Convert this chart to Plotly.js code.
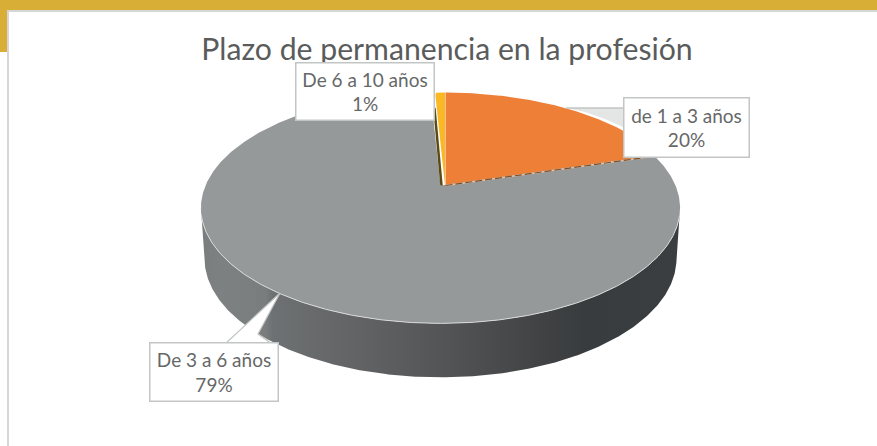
<!DOCTYPE html>
<html>
<head>
<meta charset="utf-8">
<script src="https://cdn.plot.ly/plotly-3.0.1.min.js"></script>
<style>html,body{margin:0;padding:0;background:#fff}#c{width:877px;height:446px}</style>
</head>
<body>
<div id="c"></div>
<script>
// Data
const categories = ["de 1 a 3 años", "De 3 a 6 años", "De 6 a 10 años"];
const values = [20.4, 78.8, 0.8];
const sliceColors = ["#ED7F37", "#969999", "#FBB825"];
const sliceShift = [5, 0, 4.5];
const titleText = "Plazo de permanencia en la profesión";

// Pie projection (tilted disc with perspective)
const cx = 440.5, apexY = 185.5, K = 0.195, A = 111, B = 235, startDeg = 0;
const wallDy = 49.8, wallSx = 0.985, wallSy = 1.03;
const total = values.reduce((a, b) => a + b, 0);

function proj(deg, r, sx, sy, dy, dx) {
  const t = deg * Math.PI / 180, u = r * Math.sin(t), w = -r * Math.cos(t), d = 1 - K * w;
  return [cx + (dx || 0) + sx * B * u / d, apexY + dy + sy * A * w / d];
}
function arc(a0, a1, sx, sy, dy, dx) {
  const n = Math.max(2, Math.ceil(Math.abs(a1 - a0) * 2)), p = [];
  for (let i = 0; i <= n; i++) p.push(proj(a0 + (a1 - a0) * i / n, 1, sx, sy, dy, dx));
  return p;
}
const xs = p => p.map(q => q[0]), ys = p => p.map(q => q[1]);

let a = startDeg;
const slices = categories.map((c, i) => {
  const a0 = a, a1 = a + values[i] / total * 360; a = a1;
  return { name: c, a0, a1, color: sliceColors[i], shift: sliceShift[i], pct: Math.round(values[i] / total * 100) };
});
const [orange, gray, yellow] = slices;

// Wall: front half of the disc, between the upper and the lower rim
const frontA0 = 101, frontA1 = 259;
const wallPts = arc(frontA0, frontA1, 1, 1, 0).concat(arc(frontA0, frontA1, wallSx, wallSy, wallDy).reverse());
const traces = [];
traces.push({
  type: "scatter", mode: "lines", x: xs(wallPts).concat(wallPts[0][0]), y: ys(wallPts).concat(wallPts[0][1]),
  fill: "toself", line: { width: 0, color: "#777" }, name: gray.name, hoverinfo: "skip",
  fillgradient: {
    type: "horizontal",
    colorscale: [[0, "#7a7d7d"], [0.04, "#7e8181"], [0.135, "#7a7d7d"], [0.15, "#6e7173"], [0.3, "#636566"],
                 [0.5, "#535556"], [0.7, "#414345"], [0.8, "#393c3e"], [1, "#3b3e40"]]
  }
});
slices.forEach(s => {
  const p = [proj(0, 0, 1, 1, 0, s.shift)].concat(arc(s.a0, s.a1, 1, 1, 0, s.shift));
  p.push(p[0]);
  traces.push({
    type: "scatter", mode: "lines", x: xs(p), y: ys(p), fill: "toself", fillcolor: s.color,
    line: { width: 0, color: s.color }, name: s.name, hoverinfo: "name"
  });
});
// Light rim on the front edge
const rim = arc(frontA0 + 4, frontA1 - 4, 1, 1, 0);
traces.push({ type: "scatter", mode: "lines", x: xs(rim), y: ys(rim), line: { width: 1, color: "#d8dada" }, hoverinfo: "skip" });
// Dark inner wall beside the small slice, and thin edge under the orange slice
const wallEdge = [proj(0, 0, 1, 1, 0, 1), proj(yellow.a0 + 0.4, 0.81, 1, 1, 0, 1)];
traces.push({ type: "scatter", mode: "lines", x: xs(wallEdge), y: ys(wallEdge), line: { width: 2.5, color: "#5b4a14" }, hoverinfo: "skip" });
const orangeEdge = [proj(0, 0, 1, 1, 0, orange.shift), proj(orange.a1, 1, 1, 1, 0, orange.shift)];
traces.push({ type: "scatter", mode: "lines", x: xs(orangeEdge), y: ys(orangeEdge), line: { width: 1.5, color: "#d9c4b4" }, hoverinfo: "skip" });
traces.push({ type: "scatter", mode: "lines", x: xs(orangeEdge), y: ys(orangeEdge), line: { width: 1.2, color: "#7f4f25", dash: "7px,3px" }, hoverinfo: "skip" });

const boxLine = "#c3c5c5";
const W = 877, H = 446;
const layout = {
  width: W, height: H, margin: { l: 0, r: 0, t: 0, b: 0 }, showlegend: false,
  paper_bgcolor: "#fff", plot_bgcolor: "rgba(0,0,0,0)",
  title: { text: titleText, x: 447 / W, xanchor: "center", y: 1 - 49 / H, yanchor: "middle",
           font: { family: "Lato, sans-serif", size: 30.2, color: "#5a5c5c" } },
  xaxis: { range: [0, W], visible: false, fixedrange: true },
  yaxis: { range: [H, 0], visible: false, fixedrange: true },
  shapes: [
    { type: "rect", layer: "below", x0: 0, x1: W, y0: 0, y1: 10, fillcolor: "#D9AE36", line: { width: 0 } },
    { type: "rect", layer: "below", x0: 0, x1: 7, y0: 0, y1: 52, fillcolor: "#D9AE36", line: { width: 0 } },
    { type: "rect", layer: "below", x0: 7, x1: W, y0: 10, y1: 12, fillcolor: "#d6d6d6", line: { width: 0 } },
    { type: "rect", layer: "below", x0: 7, x1: 9, y0: 10, y1: H, fillcolor: "#d6d6d6", line: { width: 0 } },
    // callout pointers
    { type: "path", layer: "above", path: "M225,344 L280,293 L258,334 L272,344 Z", fillcolor: "#fff", line: { color: boxLine, width: 1.2 } },
    { type: "path", layer: "above", path: "M566,108 L625,108 L625,128 L605,119 L585,112 Z", fillcolor: "#e4e5e5", line: { width: 0 } },
    { type: "path", layer: "above", path: "M566,108 L625,108", line: { color: boxLine, width: 1.5 } },
    { type: "path", layer: "above", path: "M431,92 L436,92 L433,104 L431,104 Z", fillcolor: "#fff", line: { width: 0 } }
  ],
  annotations: [
    { x: 364.5, y: 91, w: 137, h: 56, s: yellow },
    { x: 686, y: 127.5, w: 124, h: 58, s: orange },
    { x: 213.5, y: 372, w: 127, h: 57, s: gray }
  ].map(b => ({
    x: b.x, y: b.y, xref: "x", yref: "y", xanchor: "center", yanchor: "middle", showarrow: false, align: "center",
    text: b.s.name + "<br>" + b.s.pct + "%", width: b.w, height: b.h, borderpad: 0, borderwidth: 1.5,
    bordercolor: boxLine, bgcolor: "#fff", font: { family: "Lato, sans-serif", size: 19, color: "#666868" }
  }))
};
Plotly.newPlot("c", traces, layout, { displayModeBar: false });
</script>
</body>
</html>
